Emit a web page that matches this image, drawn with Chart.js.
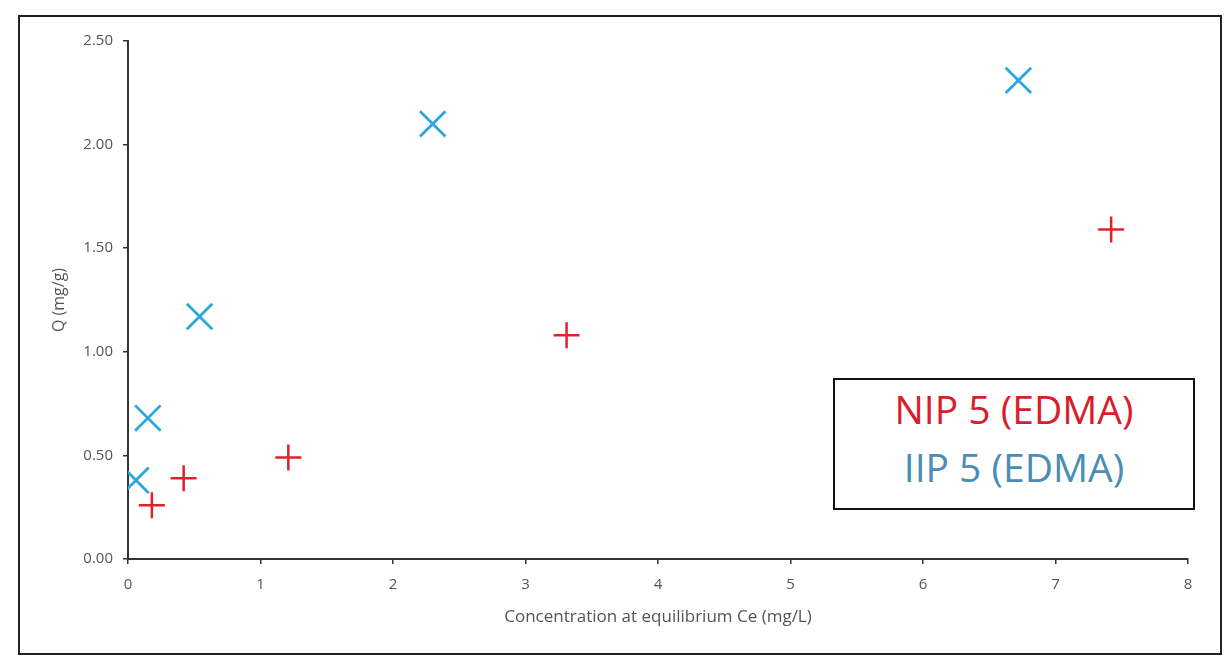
<!DOCTYPE html>
<html>
<head>
<meta charset="utf-8">
<script src="https://cdn.jsdelivr.net/npm/chart.js@4"></script>
<style>
  body { margin: 0; background: #fff; }
  #wrap { position: relative; width: 1225px; height: 659px; }
  #frame { position: absolute; left: 18px; top: 15px; width: 1200px; height: 636px; border: 2px solid #222; pointer-events: none; }
  #legend-box { position: absolute; left: 833px; top: 378px; width: 362px; height: 132px; box-sizing: border-box;
    border: 2px solid #111; background: #fff; font-family: "Open Sans", Lato, sans-serif; font-size: 39px;
    text-align: center; display: flex; flex-direction: column; justify-content: center;
    line-height: 58px; padding-bottom: 12px; }
  #legend-box .nip { color: #d81e2c; }
  #legend-box .iip { color: #4b8db5; }
</style>
</head>
<body>
<div id="wrap">
  <canvas id="myChart" width="1225" height="659"></canvas>
  <div id="frame"></div>
  <div id="legend-box">
    <div class="nip">NIP 5 (EDMA)</div>
    <div class="iip">IIP 5 (EDMA)</div>
  </div>
</div>
<script>
// 数据
const nipX = [0.18, 0.42, 1.21, 3.31, 7.42];
const nipY = [0.26, 0.39, 0.49, 1.08, 1.59];
const iipX = [0.06, 0.15, 0.54, 2.30, 6.72];
const iipY = [0.38, 0.68, 1.17, 2.10, 2.31];
const xTicks = [0, 1, 2, 3, 4, 5, 6, 7, 8];
const yTicks = [0, 0.5, 1, 1.5, 2, 2.5];

const toPoints = (xs, ys) => xs.map((x, i) => ({ x: x, y: ys[i] }));

const ctx = document.getElementById('myChart').getContext('2d');
const chart = new Chart(ctx, {
    type: 'scatter',
    data: {
        datasets: [{
            label: 'NIP 5 (EDMA)',
            data: toPoints(nipX, nipY),
            pointStyle: 'cross',
            pointRadius: 13,
            borderColor: '#e0202c',
            backgroundColor: '#e0202c',
            pointBorderWidth: 2.5
        }, {
            label: 'IIP 5 (EDMA)',
            data: toPoints(iipX, iipY),
            pointStyle: 'crossRot',
            pointRadius: 18,
            borderColor: '#29a8e0',
            backgroundColor: '#29a8e0',
            pointBorderWidth: 2.8
        }]
    },
    options: {
        responsive: false,
        animation: false,
        layout: { padding: { left: 48, top: 41, right: 37, bottom: 32 } },
        plugins: { legend: { display: false }, tooltip: { enabled: false } },
        scales: {
            x: {
                type: 'linear',
                min: 0,
                max: 8,
                afterFit: s => { s.height = 68; },
                afterBuildTicks: s => { s.ticks = xTicks.map(v => ({ value: v })); },
                grid: { drawOnChartArea: false, tickLength: 5, color: '#333', lineWidth: 1.5 },
                border: { color: '#333', width: 2 },
                ticks: { padding: 12, color: '#555', font: { family: 'Open Sans', size: 15 } },
                title: { display: true, text: 'Concentration at equilibrium Ce (mg/L)', color: '#555',
                    font: { family: 'Open Sans', size: 17 }, padding: { top: 0, bottom: 0 } }
            },
            y: {
                type: 'linear',
                min: 0,
                max: 2.5,
                afterFit: s => { s.width = 80; },
                afterBuildTicks: s => { s.ticks = yTicks.map(v => ({ value: v })); },
                grid: { drawOnChartArea: false, tickLength: 5, color: '#333', lineWidth: 1.5 },
                border: { color: '#333', width: 2 },
                ticks: { padding: 10, color: '#555', font: { family: 'Open Sans', size: 15 },
                    callback: v => Number(v).toFixed(2) },
                title: { display: true, text: 'Q (mg/g)', color: '#555',
                    font: { family: 'Open Sans', size: 16 }, padding: { top: 2, bottom: 0 } }
            }
        }
    }
});
</script>
</body>
</html>
